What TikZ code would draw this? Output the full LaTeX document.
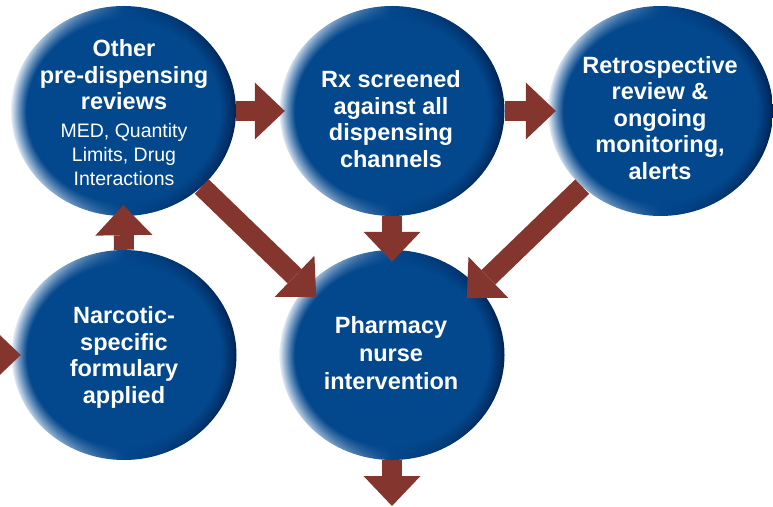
\documentclass[tikz,border=0pt]{standalone}
\usepackage{fontspec}
\setmainfont{Liberation Sans}
\usetikzlibrary{arrows.meta,shapes.geometric,fadings,positioning}
\definecolor{discblue}{RGB}{3,71,140}
\definecolor{discdark}{RGB}{0,34,82}
\definecolor{discpale}{RGB}{236,242,250}
\definecolor{flowred}{RGB}{132,53,46}
\pgfdeclareradialshading{discmask}{\pgfpointorigin}{color(0bp)=(transparent!0); color(21.5bp)=(transparent!0); color(25bp)=(transparent!100); color(50bp)=(transparent!100)}
\pgfdeclarefading{discfade}{\pgfuseshading{discmask}}
\begin{document}
\begin{tikzpicture}[x=1pt,y=1pt,
  disc/.style={ellipse,minimum width=225pt,minimum height=210pt,inner sep=0pt,left color=discpale,right color=discdark,middle color=discblue,postaction={fill=discblue,path fading=discfade}},
  lbl/.style={text=white,align=center,font=\bfseries\fontsize{23.5}{26.5}\selectfont},
  note/.style={text=white,align=center,font=\fontsize{19.5}{24}\selectfont},
  flow/.style={draw=flowred,line width=20pt,-{Triangle[length=30pt,width=57pt,line width=0pt]}}]
\useasboundingbox (0,0) rectangle (773,506);
\clip (0,0) rectangle (773,506);
\node[disc] (n1) at (123.5,395) {};
\node[disc] (n2) at (392,395) {};
\node[disc] (n3) at (660.5,395) {};
\node[disc] (n4) at (124,151) {};
\node[disc] (n5) at (392,151) {};
\node[lbl] (t1) at (124,431) {Other\\pre-dispensing\\reviews};
\node[note] (t1b) at (124,351) {MED, Quantity\\Limits, Drug\\Interactions};
\node[lbl] (t2) at (391,387) {Rx screened\\against all\\dispensing\\channels};
\node[lbl] (t3) at (660,388) {Retrospective\\review \&\\ongoing\\monitoring,\\alerts};
\node[lbl] (t4) at (124,148.5) {Narcotic-\\specific\\formulary\\applied};
\node[lbl,font=\bfseries\fontsize{23.5}{28}\selectfont] (t5) at (391,153) {Pharmacy\\nurse\\intervention};
\coordinate (src) at (-40,151);
\coordinate (sink) at (392,0);
\draw[flow,shorten >=-9.5pt] (src) -- (n4.west);
\draw[flow,shorten >=-11pt] (n4.north) -- (n1.south);
\draw[flow,shorten >=-5.5pt] (n1.east) -- (n2.west);
\draw[flow,shorten >=-8pt] (n2.east) -- (n3.west);
\draw[flow,shorten >=-12pt] (n2.south) -- (n5.north);
\draw[flow] (n5.south) -- (sink);
\draw[flow] (n1.-44) -- ++(-44:159);
\draw[flow] (n3.-136) -- ++(-136:160.5);
\end{tikzpicture}
\end{document}
